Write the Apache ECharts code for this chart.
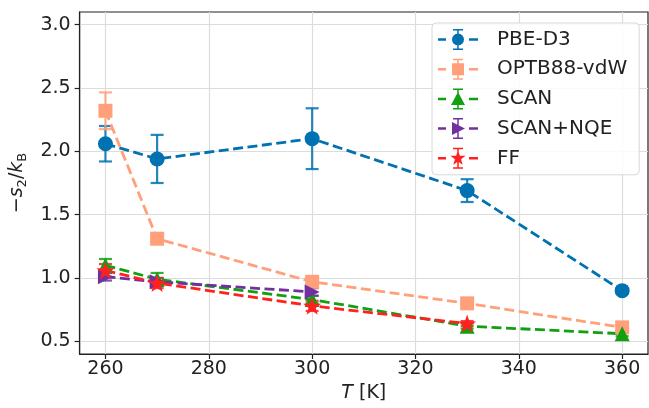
<!DOCTYPE html>
<html><head><meta charset="utf-8">
<script src="https://cdn.jsdelivr.net/npm/echarts@6/dist/echarts.min.js"></script>
<style>html,body{margin:0;padding:0;background:#fff}#c{width:649px;height:408px}</style>
</head><body><div id="c"></div>
<script>
const temps = [260, 270, 300, 330, 360];
const xTicks = [260, 280, 300, 320, 340, 360];
const yTicks = [0.5, 1.0, 1.5, 2.0, 2.5, 3.0];
const seriesNames = ['PBE-D3', 'OPTB88-vdW', 'SCAN', 'SCAN+NQE', 'FF'];
const pbeD3 = [2.06, 1.94, 2.10, 1.69, 0.90];
const pbeD3Err = [0.14, 0.19, 0.24, 0.09, 0.02];
const optb88 = [2.32, 1.31, 0.97, 0.80, 0.61];
const optb88Err = [0.145, 0.03, 0.03, 0.02, 0.02];
const scan = [1.10, 0.99, 0.83, 0.62, 0.56];
const scanErr = [0.05, 0.05, 0.03, 0.02, 0.02];
const scanNqe = [1.01, 0.97, 0.89];
const scanNqeErr = [0.03, 0.03, 0.03];
const ff = [1.06, 0.96, 0.78, 0.64];
const ffErr = [0.05, 0.04, 0.04, 0.02];

const colors = ['#0072b2', '#ffa07a', '#10a010', '#7030a0', '#ff2020'];
const values = [pbeD3, optb88, scan, scanNqe, ff];
const errs = [pbeD3Err, optb88Err, scanErr, scanNqeErr, ffErr];

const STAR = 'path://M0,-10 L2.35,-3.24 L9.51,-3.09 L3.8,1.24 L5.88,8.09 L0,4 L-5.88,8.09 L-3.8,1.24 L-9.51,-3.09 L-2.35,-3.24 Z';
const RTRI = 'path://M0,0 L10,5 L0,10 Z';
const symbols = ['circle', 'rect', 'triangle', RTRI, STAR];
const symSizes = [15, 14, 15, 15, 18];

const base = 'M0,9.25 h8 v2.5 h-8 Z M31,9.25 h9 v2.5 h-9 Z M19.25,0 h1.5 v21 h-1.5 Z M15,0 h10 v1.5 h-10 Z M15,19.5 h10 v1.5 h-10 Z ';
const legendMarks = [
  'M14,10.5 A6,6 0 1,1 26,10.5 A6,6 0 1,1 14,10.5 Z',
  'M14,4.5 h12 v12 h-12 Z',
  'M20,3.5 L27,16.5 L13,16.5 Z',
  'M14,4 L27,10.5 L14,17 Z',
  'M20,2.5 L21.88,7.91 L27.61,8.03 L23.04,11.49 L24.7,16.97 L20,13.7 L15.3,16.97 L16.96,11.49 L12.39,8.03 L18.12,7.91 Z'
];

const series = [];
seriesNames.forEach((name, i) => {
  const col = colors[i];
  series.push({
    name: name + ' err',
    type: 'custom',
    z: 2,
    silent: true,
    encode: {x: 0, y: [1, 2]},
    data: values[i].map((v, j) => [temps[j], v - errs[i][j], v + errs[i][j]]),
    renderItem: function (params, api) {
      const lo = api.coord([api.value(0), api.value(1)]);
      const hi = api.coord([api.value(0), api.value(2)]);
      const cw = 6.5;
      const style = {stroke: col, lineWidth: 2.2, opacity: 0.85};
      return {type: 'group', children: [
        {type: 'line', shape: {x1: lo[0], y1: lo[1], x2: hi[0], y2: hi[1]}, style: style},
        {type: 'line', shape: {x1: lo[0] - cw, y1: lo[1], x2: lo[0] + cw, y2: lo[1]}, style: style},
        {type: 'line', shape: {x1: hi[0] - cw, y1: hi[1], x2: hi[0] + cw, y2: hi[1]}, style: style}
      ]};
    }
  });
  series.push({
    name: name,
    type: 'line',
    z: 3,
    data: values[i].map((v, j) => [temps[j], v]),
    symbol: symbols[i],
    symbolSize: symSizes[i],
    showAllSymbol: true,
    itemStyle: {color: col, opacity: 1},
    lineStyle: {color: col, width: 2.8, type: [10, 4.5]},
    emphasis: {disabled: true},
    animation: false
  });
});

const chart = echarts.init(document.getElementById('c'), null, {renderer: 'canvas'});
chart.setOption({
  animation: false,
  backgroundColor: '#fff',
  textStyle: {fontFamily: 'DejaVu Sans'},
  grid: {left: 75, right: 1, top: 12, bottom: 51, show: true, borderColor: '#222', borderWidth: 1.2, backgroundColor: 'transparent'},
  xAxis: {
    type: 'value', min: 255, max: 365,
    name: '{i|T} [K]', nameLocation: 'middle', nameGap: 30,
    nameTextStyle: {fontSize: 19, color: '#222', fontFamily: 'DejaVu Sans', rich: {i: {fontStyle: 'italic', fontSize: 19, color: '#222', fontFamily: 'DejaVu Sans'}}},
    axisLine: {show: true, onZero: false, lineStyle: {color: '#222', width: 1.2}},
    axisTick: {show: true, inside: false, length: 5, customValues: xTicks, lineStyle: {color: '#222', width: 1.2}},
    axisLabel: {customValues: xTicks, fontSize: 19, color: '#222', margin: 6},
    splitLine: {show: true, lineStyle: {color: '#dcdcdc', width: 1.2}}
  },
  yAxis: {
    type: 'value', min: 0.4, max: 3.1,
    name: '{m|−}{i|s}{sub|2}{m|/}{i|k}{sub|B}', nameLocation: 'middle', nameGap: 48, nameRotate: 90,
    nameTextStyle: {fontSize: 19, color: '#222', rich: {
      m: {fontSize: 19, color: '#222', fontFamily: 'DejaVu Sans', lineHeight: 24, verticalAlign: 'middle'},
      i: {fontSize: 19, color: '#222', fontFamily: 'DejaVu Sans', fontStyle: 'italic', lineHeight: 24, verticalAlign: 'middle'},
      sub: {fontSize: 13, color: '#222', fontFamily: 'DejaVu Sans', lineHeight: 13, verticalAlign: 'bottom'}
    }},
    axisLine: {show: true, onZero: false, lineStyle: {color: '#222', width: 1.2}},
    axisTick: {show: true, inside: false, length: 5, customValues: yTicks, lineStyle: {color: '#222', width: 1.2}},
    axisLabel: {customValues: yTicks, fontSize: 19, color: '#222', margin: 9, formatter: v => v.toFixed(1)},
    splitLine: {show: true, lineStyle: {color: '#dcdcdc', width: 1.2}}
  },
  legend: {
    orient: 'vertical', left: 432, top: 23,
    padding: [6, 12, 6, 6],
    itemWidth: 40, itemHeight: 21, itemGap: 8.7,
    backgroundColor: 'rgba(255,255,255,0.85)', borderColor: '#d8d8d8', borderWidth: 1, borderRadius: 4,
    textStyle: {fontSize: 20, color: '#222', fontFamily: 'DejaVu Sans', padding: [0, 0, 0, 14]},
    selectedMode: false,
    data: seriesNames.map((n, i) => ({name: n, icon: 'path://' + base + legendMarks[i]}))
  },
  series: series
});
</script></body></html>
